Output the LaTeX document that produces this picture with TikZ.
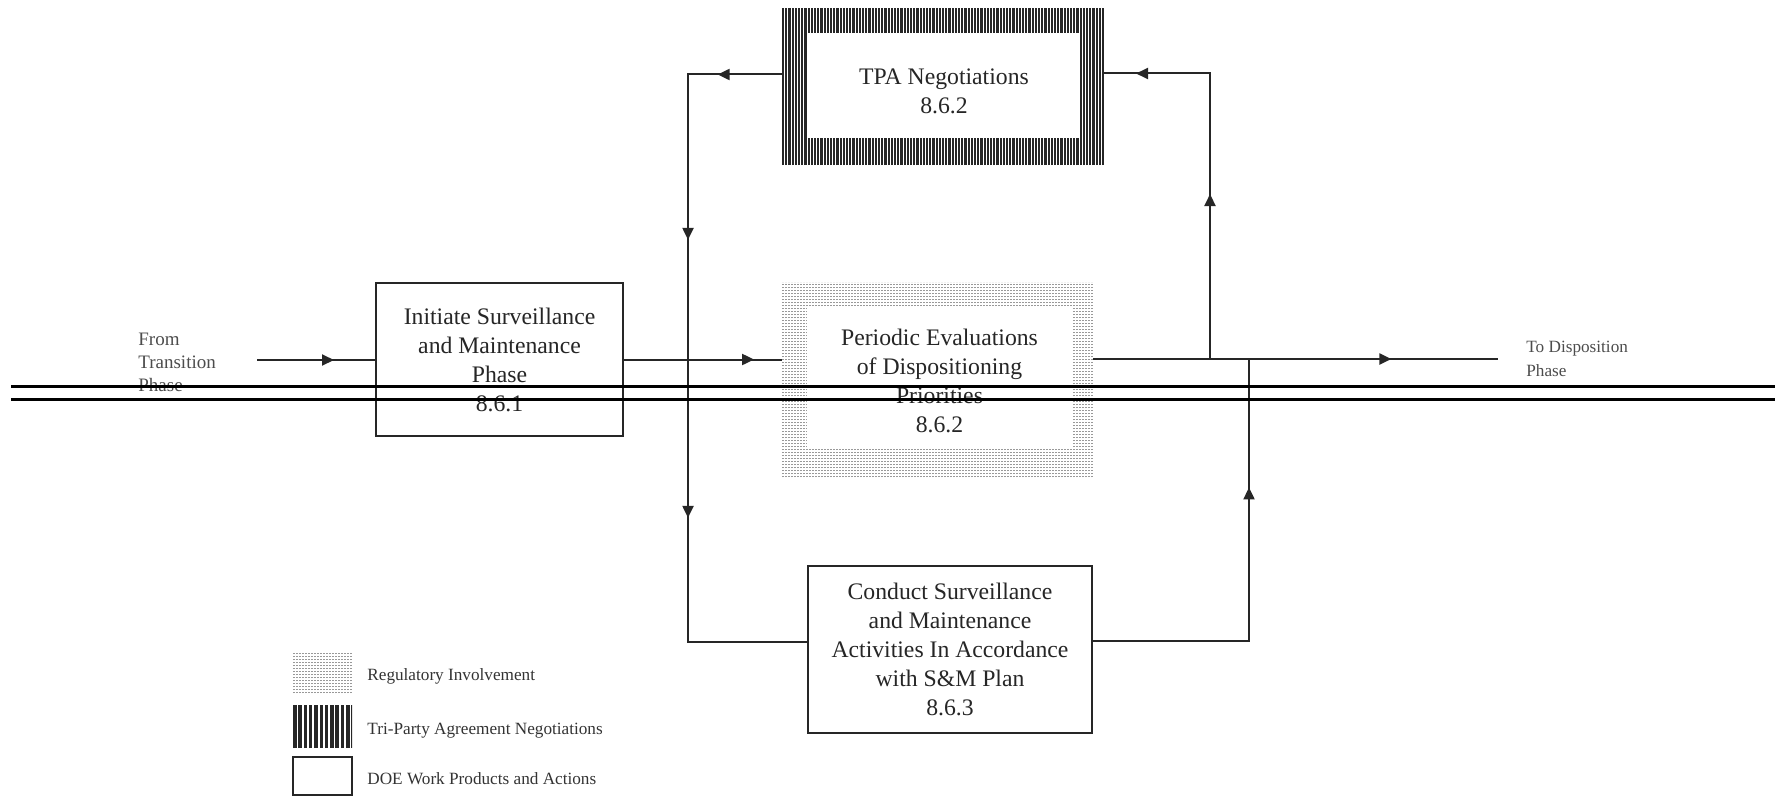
\documentclass[tikz,border=0pt]{standalone}
\usepackage{fontspec}
\setmainfont{Liberation Serif}
\usetikzlibrary{arrows.meta,decorations.markings}

\newcommand\boxfont{\fontsize{11.85pt}{14.5pt}\selectfont}
\newcommand\lblfont{\fontsize{9.5pt}{11.5pt}\selectfont}
\newcommand\legfont{\fontsize{8.6pt}{11pt}\selectfont}

\tikzset{
  wire/.style={draw=black!85, line width=1pt},
  arrowat/.style={postaction={decorate, decoration={markings,
      mark=at position #1 with {\arrow{Triangle[length=6pt,width=5.5pt]}}}}},
  procbox/.style={rectangle, draw=black!85, line width=1.1pt, fill=white,
      inner sep=0pt, align=center, font=\boxfont, text=black!85},
  % dense vertical bars (Tri-Party Agreement negotiations)
  bars/.style={rectangle, inner sep=0pt, fill=white, path picture={
      \foreach \k in {0,...,105}{
        \draw[black!85, line width=1.1pt]
          ([xshift=\k*1.6pt+0.5pt]path picture bounding box.south west) --
          ([xshift=\k*1.6pt+0.5pt]path picture bounding box.north west);
      }}},
  legbars/.style={rectangle, inner sep=0pt, fill=white, path picture={
      \foreach \k in {0,...,12}{
        \draw[black!85, line width=1.75pt]
          ([xshift=\k*2.65pt+0.9pt]path picture bounding box.south west) --
          ([xshift=\k*2.65pt+0.9pt]path picture bounding box.north west);
      }}},
  % fine dotted stipple (regulatory involvement)
  stipple/.style={rectangle, inner sep=0pt, fill=white, path picture={
      \foreach \k in {0,...,110}{
        \draw[gray!80, line width=0.6pt, dash pattern=on 0.6pt off 0.9pt]
          ([xshift=\k*1.5pt+0.5pt]path picture bounding box.south west) --
          ([xshift=\k*1.5pt+0.5pt]path picture bounding box.north west);
      }}},
  panel/.style={rectangle, inner sep=0pt, fill=white, draw=none},
  boxtext/.style={inner sep=0pt, align=center, font=\boxfont, text=black!85},
  sidetext/.style={inner sep=0pt, align=left, anchor=west, font=\lblfont, text=black!70},
  legtext/.style={inner sep=0pt, anchor=west, font=\legfont, text=black!80},
  scanline/.style={draw=black, line width=1.5pt},
}

\begin{document}
\begin{tikzpicture}[x=0.5pt,y=-0.5pt]
\useasboundingbox (0,0) rectangle (1775,797);

% process boxes
\node[procbox, minimum width=123.5pt, minimum height=76.5pt] (initiate) at (499.5,359.5)
  {Initiate Surveillance\\and Maintenance\\Phase\\8.6.1};
\node[procbox, minimum width=142pt, minimum height=83.5pt] (conduct) at (950,649.5)
  {Conduct Surveillance\\and Maintenance\\Activities In Accordance\\with S\&M Plan\\8.6.3};

% TPA negotiations: barred frame with white panel
\node[bars, minimum width=161pt, minimum height=78.5pt] (tpa) at (943,86.5) {};
\node[panel, minimum width=136pt, minimum height=52.5pt] (tpapanel) at (944,85.5) {};
\node[boxtext] (tpalabel) at (944,91) {TPA Negotiations\\8.6.2};

% periodic evaluations: stippled frame with white panel
\node[stipple, minimum width=155.5pt, minimum height=97.5pt] (periodic) at (937.5,379.5) {};
\node[panel, minimum width=132.5pt, minimum height=70.5pt] (perpanel) at (939.5,377.5) {};
\node[boxtext] (perlabel) at (939.5,380.5)
  {Periodic Evaluations\\of Dispositioning\\Priorities\\8.6.2};

% phase labels
\node[sidetext] (fromtxt) at (138,362) {From\\Transition\\Phase};
\node[sidetext, font=\fontsize{8.6pt}{12pt}\selectfont] (totxt) at (1526,359) {To Disposition\\Phase};

% connector ends and bends
\coordinate (src) at (257,360);
\coordinate (tpaW) at ([yshift=6pt]tpa.west);
\coordinate (tpaE) at ([yshift=6.5pt]tpa.east);
\coordinate (perW) at (initiate.east -| periodic.west);
\coordinate (perE) at ([yshift=10.25pt]periodic.east);
\coordinate (cndW) at ([yshift=4pt]conduct.west);
\coordinate (cndE) at ([yshift=4.5pt]conduct.east);
\coordinate (colL) at (688,0);
\coordinate (splitR) at (1210,359);
\coordinate (joinR) at (1249,359);
\coordinate (outEnd) at (1498,359);

% connectors
\draw[wire, arrowat=38.5pt] (src) -- (src -| initiate.west);
\draw[wire, arrowat=65pt] (initiate.east) -- (perW);
\draw[wire, arrowat=32pt, arrowat=129.5pt, arrowat=268.5pt]
  (tpaW) -| (cndW -| colL) -- (cndW);
\draw[wire, arrowat=154.5pt] (cndE) -| (joinR);
\draw[wire, arrowat=149pt] (perE) -- (outEnd);
\draw[wire, arrowat=82.5pt, arrowat=179.75pt] (splitR) |- (tpaE);

% legend
\node[stipple, minimum width=29.5pt, minimum height=20pt] (legreg) at (322.5,673) {};
\node[legbars, minimum width=29.5pt, minimum height=21.5pt] (legtpa) at (322.5,726.5) {};
\node[procbox, minimum width=29.5pt, minimum height=19pt] (legdoe) at (322.5,776) {};
\node[legtext] (legregtxt) at (367,676) {Regulatory Involvement};
\node[legtext] (legtpatxt) at (367,731) {Tri-Party Agreement Negotiations};
\node[legtext] (legdoetxt) at (367,779) {DOE Work Products and Actions};

% double rule across the sheet
\draw[scanline] (11,386) -- (1775,386);
\draw[scanline] (11,399.5) -- (1775,399.5);
\end{tikzpicture}
\end{document}
